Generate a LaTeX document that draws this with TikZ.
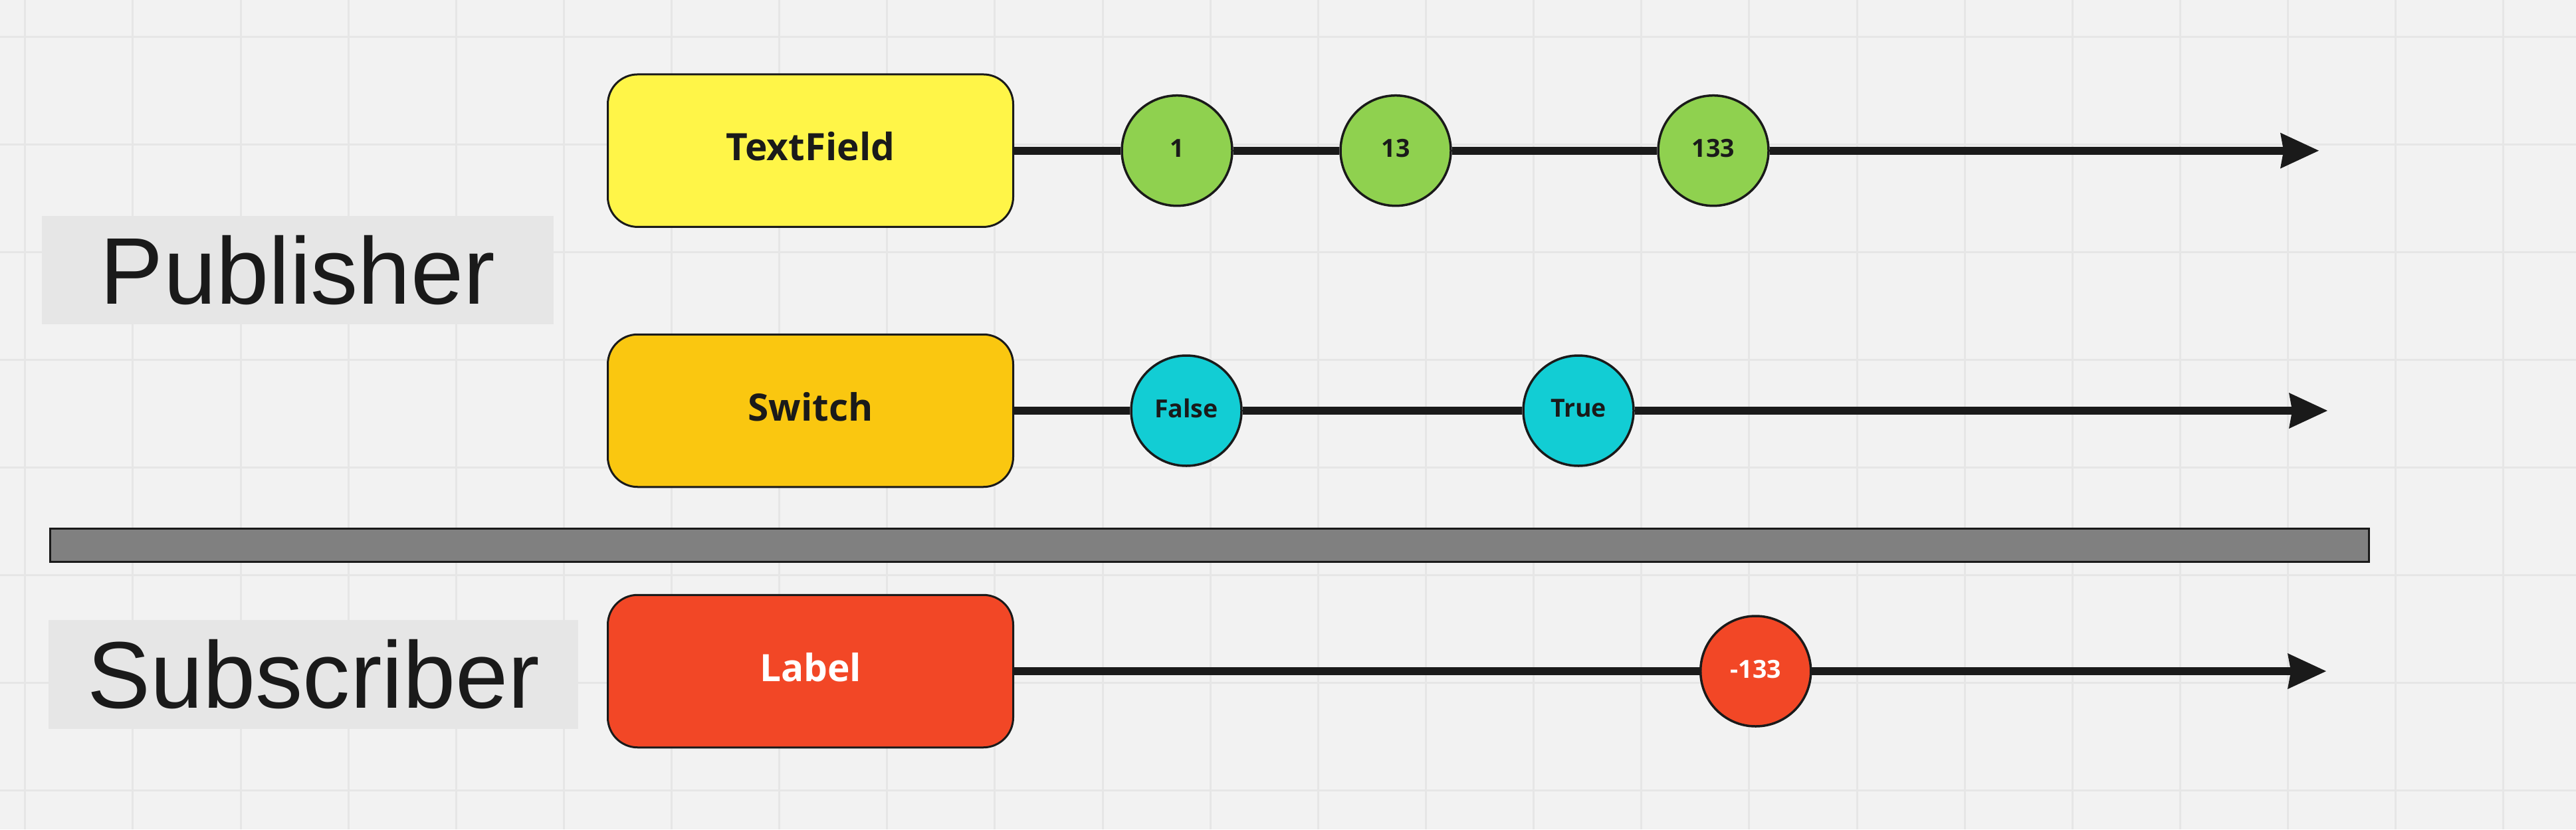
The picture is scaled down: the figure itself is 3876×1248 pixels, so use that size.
\documentclass[tikz,border=0pt]{standalone}
\usepackage{fontspec}
\newfontfamily\osans{Open Sans}
\newfontfamily\arialf{Liberation Sans}
\usetikzlibrary{arrows.meta}
\definecolor{canvas}{HTML}{F2F2F2}
\definecolor{gridc}{HTML}{E6E6E6}
\definecolor{ink}{HTML}{1A1A1A}
\definecolor{yel}{HTML}{FFF548}
\definecolor{amber}{HTML}{FAC710}
\definecolor{redo}{HTML}{F24726}
\definecolor{grn}{HTML}{8FD14F}
\definecolor{cyn}{HTML}{12CDD4}
\definecolor{barfill}{HTML}{808080}
\definecolor{tagbg}{HTML}{E6E6E6}
\begin{document}
\begin{tikzpicture}[x=1pt,y=-1pt,
  gridline/.style={draw=gridc, line width=3pt},
  srcbox/.style={draw=ink, line width=3pt, rounded corners=45pt,
    minimum width=610pt, minimum height=229.5pt, inner sep=0pt,
    font=\osans\bfseries\fontsize{56.7}{68}\selectfont, text=ink, text depth=13pt},
  marble/.style={circle, draw=ink, line width=3.5pt, minimum size=166pt, inner sep=0pt,
    font=\osans\bfseries\fontsize{37.5}{45}\selectfont, text=ink, text depth=7pt},
  tag/.style={fill=tagbg, inner sep=0pt, text=ink,
    font=\arialf\fontsize{142.5}{160}\selectfont},
  flow/.style={draw=ink, line width=12pt},
  flowarrow/.style={flow, -{Stealth[length=58pt,width=54pt,inset=5pt,line width=0pt]}}
]
\useasboundingbox (0,0) rectangle (3876,1248);
\fill[canvas] (0,0) rectangle (3876,1248);
\foreach \i in {0,...,23} \draw[gridline] ({37.8+162.13*\i},0) -- ({37.8+162.13*\i},1248);
\foreach \j in {0,...,7} \draw[gridline] (0,{55+162.1*\j}) -- (3876,{55+162.1*\j});

% tags
\node[tag, minimum width=770pt, minimum height=163pt] (pub) at (448,406.5) {Publisher};
\node[tag, minimum width=796.5pt, minimum height=164pt] (sub) at (471.7,1015) {Subscriber};

% separator bar
\node[draw=ink, fill=barfill, line width=3pt, minimum width=3489.5pt, minimum height=49.6pt, inner sep=0pt] (sep) at (1819.75,820.7) {};

% source boxes
\node[srcbox, fill=yel] (tf) at (1219.5,226.7) {TextField};
\node[srcbox, fill=amber] (sw) at (1219.5,618) {Switch};
\node[srcbox, fill=redo, text=white] (lb) at (1219.5,1010) {Label};

% marbles
\node[marble, fill=grn] (c1) at (1771,226.7) {1};
\node[marble, fill=grn] (c13) at (2100,226.7) {13};
\node[marble, fill=grn] (c133) at (2578,226.7) {133};
\node[marble, fill=cyn] (cf) at (1785,618) {False};
\node[marble, fill=cyn] (ct) at (2375,618) {True};
\node[marble, fill=redo, text=white] (cm) at (2641.7,1010) {-133};

% arrow ends
\coordinate (e1) at (3489,226.7);
\coordinate (e2) at (3502,618);
\coordinate (e3) at (3500,1010);

% streams
\draw[flow] (tf) -- (c1);
\draw[flow] (c1) -- (c13);
\draw[flow] (c13) -- (c133);
\draw[flowarrow] (c133) -- (e1);
\draw[flow] (sw) -- (cf);
\draw[flow] (cf) -- (ct);
\draw[flowarrow] (ct) -- (e2);
\draw[flow] (lb) -- (cm);
\draw[flowarrow] (cm) -- (e3);
\end{tikzpicture}
\end{document}
